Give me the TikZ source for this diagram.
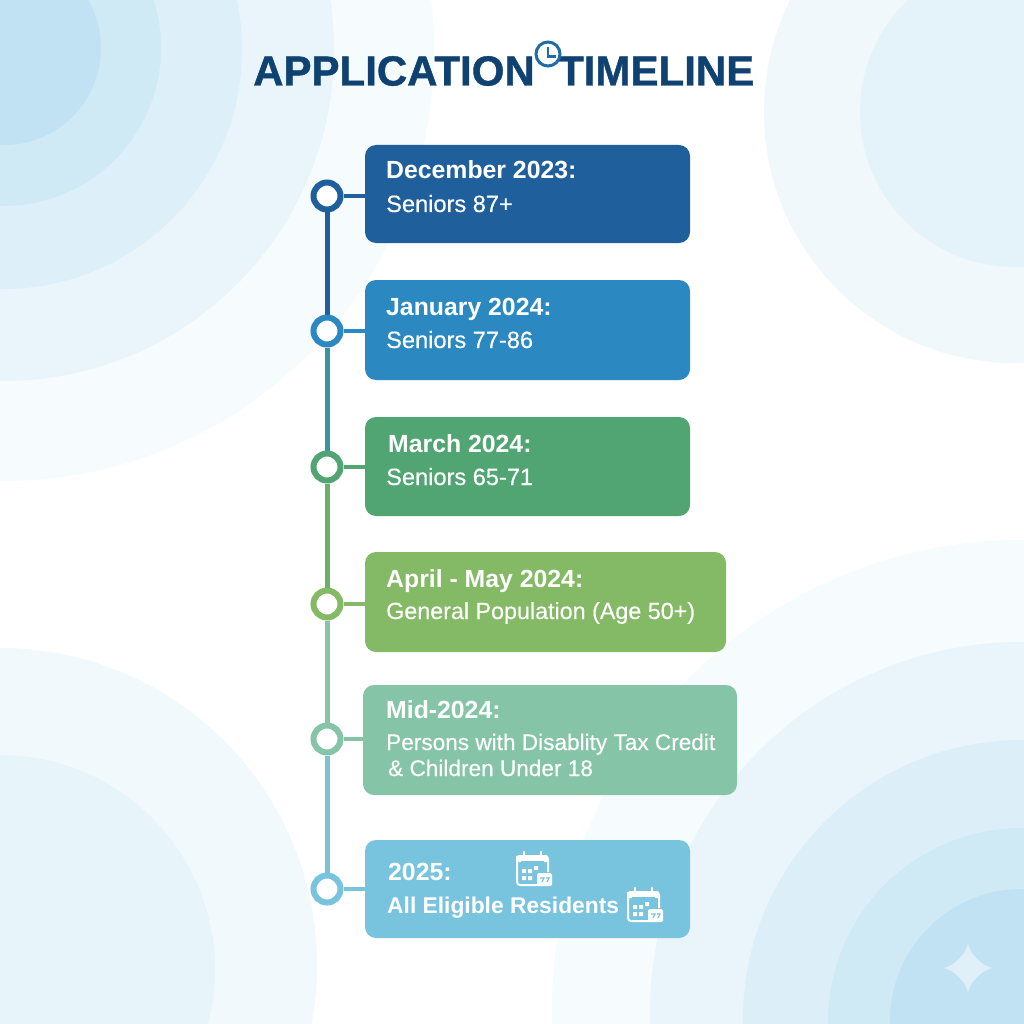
\documentclass[tikz,border=0pt]{standalone}
\usepackage{fontspec}
\setmainfont{Liberation Sans}
\newfontfamily\bodyfont[FakeBold=0.35]{Liberation Sans}
\newfontfamily\headfont{Liberation Sans Bold}
\newfontfamily\bigfont[FakeBold=1]{Liberation Sans Bold}
\definecolor{bgblue}{HTML}{BBE0F1}
\definecolor{titleblue}{HTML}{0F4271}
\definecolor{clockblue}{HTML}{1F6CA6}
\definecolor{starblue}{HTML}{DFF0F9}
\definecolor{cA}{HTML}{1F5F9C}
\definecolor{cB}{HTML}{2B88C0}
\definecolor{cC}{HTML}{50A572}
\definecolor{cD}{HTML}{84B966}
\definecolor{cE}{HTML}{86C4A8}
\definecolor{cF}{HTML}{78C3DE}
\tikzset{
  stagebox/.style={rounded corners=11pt,draw=none,inner sep=0pt},
  stagedot/.style={circle,draw=#1,fill=white,line width=6pt,minimum size=27pt,inner sep=0pt},
  stagehead/.style={anchor=base west,inner sep=0pt,text=white,font=\fontsize{#1}{28}\headfont},
  stagehead/.default=24.8,
  stagetext/.style={anchor=base west,inner sep=0pt,text=white,font=\fontsize{#1}{27}\bodyfont},
  stagetext/.default=23.6,
  spine/.style={line width=5pt},
  branch/.style={line width=3.5pt},
  titletext/.style={anchor=base west,inner sep=0pt,text=titleblue,font=\fontsize{42}{48}\bigfont},
  calendar/.pic={
    \draw[white,line width=2pt,rounded corners=3pt] (0,4)--(0,33)--(22,33);
    \draw[white,line width=2pt,rounded corners=3pt] (0,12)--(0,4)--(31,4)--(31,20);
    \fill[white,rounded corners=2pt] (0,3) rectangle (31,10);
    \draw[cF,line width=1.2pt] (4,10)--(27,10);
    \draw[white,line width=2.4pt,line cap=round] (7,0)--(7,5) (24,0)--(24,5);
    \fill[white] (5,17) rectangle (9,21) (11,17) rectangle (15,21) (17,14) rectangle (21,18)
                 (5,24) rectangle (9,28) (11,24) rectangle (15,28);
    \fill[white,rounded corners=1.5pt] (20,21) rectangle (35,34);
    \draw[cF,line width=1.2pt] (23,26)--(27,26)--(25,30) (29,26)--(32,26)--(30,30);
  }
}
\begin{document}
\begin{tikzpicture}[x=1pt,y=-1pt]
\useasboundingbox (0,0) rectangle (1024,1024);
\begin{scope}
\clip (0,0) rectangle (1024,1024);
\fill[white] (0,0) rectangle (1024,1024);
% top left
\fill[bgblue!14!white] (3,50) circle (431);
\fill[bgblue!33!white] (3,50) circle (331);
\fill[bgblue!50!white] (3,50) circle (239);
\fill[bgblue!70!white] (3,48) circle (158);
\fill[bgblue!92!white] (4,48) circle (97);
% top right
\fill[bgblue!22!white] (1015,112) circle (251);
\fill[bgblue!40!white] (1015,112) circle (155);
% bottom left
\fill[bgblue!20!white] (0,965) circle (317);
\fill[bgblue!36!white] (0,970) circle (215);
% bottom right
\fill[bgblue!14!white] (1022,1010) circle (470);
\fill[bgblue!33!white] (1022,1014) circle (372);
\fill[bgblue!52!white] (1022,1019) circle (279);
\fill[bgblue!70!white] (1022,1022) circle (194);
\fill[bgblue!92!white] (1022,1021) circle (132);
% star
\fill[starblue] (968,944) .. controls (971,955) and (981,965) .. (992,968)
  .. controls (981,971) and (971,981) .. (968,992)
  .. controls (965,981) and (955,971) .. (944,968)
  .. controls (955,965) and (965,955) .. (968,944) -- cycle;
\end{scope}

\node[titletext] (titleA) at (253,85.5) {APPLICATION};
\node[titletext] (titleB) at (558,85.5) {TIMELINE};
\node[circle,draw=clockblue,fill=white,line width=3pt,minimum size=24pt,inner sep=0pt] (clock) at (548,54) {};
\draw[clockblue,line width=2.4pt] (548,47)--(548,56.5)--(556,56.5);

\node[stagebox,fill=cA,minimum width=325pt,minimum height=98pt] (dec) at (527.5,194) {};
\node[stagebox,fill=cB,minimum width=325pt,minimum height=100pt] (jan) at (527.5,330) {};
\node[stagebox,fill=cC,minimum width=325pt,minimum height=99pt] (mar) at (527.5,466.5) {};
\node[stagebox,fill=cD,minimum width=361pt,minimum height=100pt] (apr) at (545.5,602) {};
\node[stagebox,fill=cE,minimum width=374pt,minimum height=110pt] (mid) at (550,740) {};
\node[stagebox,fill=cF,minimum width=325pt,minimum height=98pt] (all) at (527.5,889) {};

\node[stagedot=cA] (d1) at (327,196) {};
\node[stagedot=cB] (d2) at (327,331) {};
\node[stagedot=cC] (d3) at (327,467) {};
\node[stagedot=cD] (d4) at (327,604) {};
\node[stagedot=cE] (d5) at (327,739) {};
\node[stagedot=cF] (d6) at (327,889) {};

\draw[spine,cA] (d1)--(d2);
\draw[spine,cB!60!cC] (d2)--(d3);
\draw[spine,cC!50!cD] (d3)--(d4);
\draw[spine,cE] (d4)--(d5);
\draw[spine,cF!85!cE] (d5)--(d6);

\draw[branch,cA] (d1)--(d1 -| dec.west);
\draw[branch,cB] (d2)--(d2 -| jan.west);
\draw[branch,cC] (d3)--(d3 -| mar.west);
\draw[branch,cD] (d4)--(d4 -| apr.west);
\draw[branch,cE] (d5)--(d5 -| mid.west);
\draw[branch,cF] (d6)--(d6 -| all.west);

\node[stagehead] (t1) at (386,179) {December 2023:};
\node[stagetext] (s1) at (386,212) {Seniors 87+};
\node[stagehead] (t2) at (386,315) {January 2024:};
\node[stagetext] (s2) at (386,348) {Seniors 77-86};
\node[stagehead] (t3) at (388,452) {March 2024:};
\node[stagetext] (s3) at (386,485) {Seniors 65-71};
\node[stagehead] (t4) at (386,587) {April - May 2024:};
\node[stagetext=23.3] (s4) at (386,619) {General Population (Age 50+)};
\node[stagehead] (t5) at (386,718) {Mid-2024:};
\node[stagetext=22.6] (s5) at (386,750) {Persons with Disablity Tax Credit};
\node[stagetext=22.6] (s6) at (388,776) {\& Children Under 18};
\node[stagehead] (t6) at (388,880) {2025:};
\node[stagehead=22.8] (s7) at (387,913) {All Eligible Residents};

\pic at (517,852) {calendar};
\pic at (628,888) {calendar};
\end{tikzpicture}
\end{document}
